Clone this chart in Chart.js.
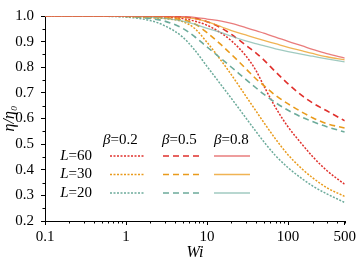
<!DOCTYPE html>
<html><head><meta charset="utf-8">
<script src="https://cdn.jsdelivr.net/npm/chart.js@4.4.1/dist/chart.umd.min.js"></script>
<style>html,body{margin:0;padding:0;background:#fff}canvas{display:block}</style>
</head><body>
<canvas id="c" width="359" height="259"></canvas>
<script>
// ---- data ----
const wi = [0.1,0.2,0.3,0.5,0.7,1,2,3,5,7,10,15,20,30,40,50,70,100,150,200,300,500];

const L60_b02 = [1,1,1,1,1,0.9995,0.998,0.996,0.99,0.98,0.964,0.933,0.903,0.845,0.788,0.728,0.643,0.567,0.498,0.452,0.397,0.343];
const L60_b05 = [1,1,1,1,1,1,0.9995,0.999,0.996,0.991,0.978,0.953,0.928,0.886,0.856,0.829,0.782,0.735,0.688,0.661,0.630,0.591];
const L60_b08 = [1,1,1,1,1,1,1,0.999,0.998,0.995,0.988,0.980,0.971,0.955,0.943,0.933,0.918,0.901,0.883,0.870,0.853,0.836];

const L30_b02 = [1,1,1,1,0.9995,0.998,0.993,0.99,0.978,0.952,0.897,0.825,0.770,0.688,0.630,0.585,0.520,0.458,0.402,0.369,0.330,0.296];
const L30_b05 = [1,1,1,1,1,0.999,0.996,0.993,0.985,0.970,0.935,0.887,0.850,0.795,0.755,0.729,0.690,0.657,0.624,0.603,0.580,0.563];
const L30_b08 = [1,1,1,1,1,1,0.999,0.998,0.995,0.99,0.978,0.958,0.943,0.926,0.914,0.905,0.892,0.878,0.864,0.854,0.841,0.829];

const L20_b02 = [1,1,0.9995,0.999,0.998,0.996,0.982,0.962,0.918,0.868,0.803,0.730,0.678,0.603,0.550,0.510,0.455,0.408,0.364,0.337,0.306,0.272];
const L20_b05 = [1,1,1,1,0.999,0.998,0.99,0.98,0.952,0.920,0.879,0.833,0.800,0.753,0.720,0.695,0.662,0.632,0.604,0.588,0.568,0.547];
const L20_b08 = [1,1,1,1,1,0.999,0.996,0.991,0.980,0.968,0.952,0.935,0.921,0.903,0.892,0.884,0.872,0.861,0.850,0.843,0.833,0.821];

const xTickValues = [0.1,1,10,100,500];
const yTickValues = [0.2,0.3,0.4,0.5,0.6,0.7,0.8,0.9,1.0];
const lValues = ['60','30','20'];
const betaValues = ['0.2','0.5','0.8'];

// ---- styles ----
const FONT = "'Liberation Serif','Times New Roman',serif";
const lineCol = {'60':'#e0302c','30':'#e99b1c','20':'#6cab9b'};
const solidCol = {'60':'rgba(226,80,80,0.75)','30':'rgba(236,160,40,0.8)','20':'rgba(120,180,165,0.7)'};
const dashFor = {'0.2':[2,1.5],'0.5':[6,4],'0.8':[]};
const widthFor = {'0.2':1.5,'0.5':1.6,'0.8':1.3};

const seriesMap = {
  '60':{'0.2':L60_b02,'0.5':L60_b05,'0.8':L60_b08},
  '30':{'0.2':L30_b02,'0.5':L30_b05,'0.8':L30_b08},
  '20':{'0.2':L20_b02,'0.5':L20_b05,'0.8':L20_b08}
};

function styleOf(L,b){
  return {
    color: b==='0.8' ? solidCol[L] : lineCol[L],
    dash: dashFor[b],
    width: widthFor[b]
  };
}

const datasets = [];
for (const b of ['0.8','0.5','0.2']) {
  for (const L of lValues) {
    const st = styleOf(L,b);
    datasets.push({
      label: 'L='+L+' β='+b,
      data: wi.map((x,i)=>({x:x, y:seriesMap[L][b][i]})),
      borderColor: st.color,
      borderDash: st.dash,
      borderWidth: st.width,
      pointRadius: 0,
      fill: false,
      cubicInterpolationMode: 'monotone'
    });
  }
}

const minorTicks = {
  id:'minorTicks',
  afterDraw(chart){
    const ctx = chart.ctx, xs = chart.scales.x, ys = chart.scales.y;
    const ca = chart.chartArea;
    ctx.save();
    ctx.strokeStyle = '#000'; ctx.lineWidth = 1; ctx.setLineDash([]);
    for (const dec of [0.1,1,10,100]) {
      for (let m=2;m<=9;m++){
        const v = m*dec;
        if (v>500) break;
        const px = Math.round(xs.getPixelForValue(v))+0.5;
        ctx.beginPath(); ctx.moveTo(px, ca.bottom); ctx.lineTo(px, ca.bottom+2.5); ctx.stroke();
      }
    }
    for (let i=0;i<yTickValues.length-1;i++){
      const v = (yTickValues[i]+yTickValues[i+1])/2;
      const py = Math.round(ys.getPixelForValue(v))+0.5;
      ctx.beginPath(); ctx.moveTo(ca.left, py); ctx.lineTo(ca.left-2.5, py); ctx.stroke();
    }
    ctx.restore();
  }
};

function drawMixed(ctx, parts, x, y, align){
  let total = 0;
  const widths = parts.map(p=>{ctx.font=(p[1]?'italic ':'')+'15px '+FONT; const w=ctx.measureText(p[0]).width; total+=w; return w;});
  let cx = align==='right' ? x-total : x;
  parts.forEach((p,i)=>{ctx.font=(p[1]?'italic ':'')+'15px '+FONT; ctx.fillText(p[0], cx, y); cx+=widths[i];});
}

const legendPlugin = {
  id:'customLegend',
  afterDraw(chart){
    const ctx = chart.ctx;
    ctx.save();
    ctx.fillStyle = '#000';
    ctx.textBaseline = 'middle';
    ctx.textAlign = 'left';
    const colX = {'0.2':[110,145],'0.5':[163,203],'0.8':[214,250]};
    const headX = {'0.2':103,'0.5':162,'0.8':214};
    const rowY = {'60':156,'30':174.5,'20':193};
    for (const b of betaValues) drawMixed(ctx, [['β',true],['=' + b,false]], headX[b], 140, 'left');
    for (const L of lValues) {
      drawMixed(ctx, [['L',true],['='+L,false]], 92, rowY[L], 'right');
      for (const b of betaValues) {
        const st = styleOf(L,b);
        ctx.strokeStyle = st.color; ctx.lineWidth = st.width; ctx.setLineDash(st.dash);
        ctx.beginPath(); ctx.moveTo(colX[b][0], rowY[L]); ctx.lineTo(colX[b][1], rowY[L]); ctx.stroke();
      }
    }
    ctx.restore();
  }
};

new Chart(document.getElementById('c'), {
  type:'line',
  data:{datasets},
  options:{
    responsive:false,
    animation:false,
    devicePixelRatio:1,
    layout:{padding:{top:7,right:13,left:0,bottom:0}},
    plugins:{legend:{display:false}, tooltip:{enabled:false}},
    scales:{
      x:{
        type:'logarithmic', min:0.1, max:500,
        afterBuildTicks(s){ s.ticks = xTickValues.map(v=>({value:v})); },
        afterFit(s){ s.height = 38; },
        ticks:{autoSkip:false, maxRotation:0, padding:3, color:'#000',
          font:{family:FONT,size:15},
          callback:(v)=>String(v)},
        grid:{drawOnChartArea:false, drawTicks:true, tickLength:4, color:'#000'},
        border:{display:true, color:'#000', width:1},
        title:{display:true, text:'Wi', color:'#000', font:{family:FONT,size:16,style:'italic'}, padding:{top:0,bottom:-3}}
      },
      y:{
        type:'linear', min:0.2, max:1.0,
        afterBuildTicks(s){ s.ticks = yTickValues.map(v=>({value:v})); },
        afterFit(s){ s.width = 45; },
        ticks:{padding:7, color:'#000', font:{family:FONT,size:15},
          callback:(v)=>Number(v).toFixed(1)},
        grid:{drawOnChartArea:false, drawTicks:true, tickLength:4, color:'#000'},
        border:{display:true, color:'#000', width:1},
        title:{display:true, text:'η/η₀', color:'#000', font:{family:FONT,size:16,style:'italic'}, padding:{top:0,bottom:0}}
      }
    }
  },
  plugins:[minorTicks, legendPlugin]
});
</script>
</body></html>
